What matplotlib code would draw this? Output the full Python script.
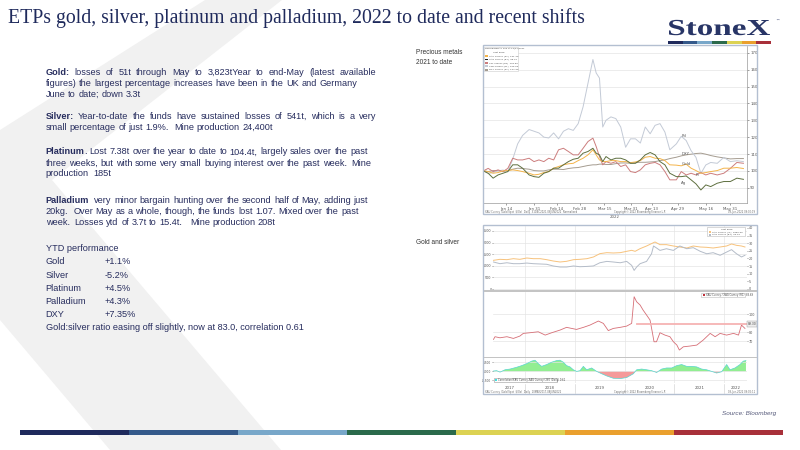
import re
import numpy as np
import matplotlib
matplotlib.use('Agg')
import matplotlib.pyplot as plt
from matplotlib.patches import Polygon, Rectangle, PathPatch
from matplotlib.textpath import TextPath
from matplotlib.font_manager import FontProperties
from matplotlib.transforms import blended_transform_factory, Affine2D

# ---------------------------------------------------------------- data
title = "ETPs gold, silver, platinum and palladium, 2022 to date and recent shifts"

ytd_names = ["Gold", "Silver", "Platinum", "Palladium", "DXY"]
ytd_values = [1.1, -5.2, 4.5, 4.3, 7.35]

# Chart 1: precious metals normalised to 100 at 31 Dec 2021
pm_dates = ["2021-12-31", "2022-01-03", "2022-01-06", "2022-01-09", "2022-01-12", "2022-01-15",
            "2022-01-18", "2022-01-21", "2022-01-24", "2022-01-28", "2022-01-31", "2022-02-03",
            "2022-02-06", "2022-02-09", "2022-02-12", "2022-02-15", "2022-02-18", "2022-02-21",
            "2022-02-24", "2022-02-27", "2022-03-02", "2022-03-05", "2022-03-08", "2022-03-10",
            "2022-03-12", "2022-03-14", "2022-03-16", "2022-03-19", "2022-03-22", "2022-03-25",
            "2022-03-28", "2022-03-31", "2022-04-03", "2022-04-06", "2022-04-09", "2022-04-12",
            "2022-04-15", "2022-04-18", "2022-04-21", "2022-04-24", "2022-04-28", "2022-05-01",
            "2022-05-04", "2022-05-07", "2022-05-10", "2022-05-13", "2022-05-16", "2022-05-19",
            "2022-05-23", "2022-05-27", "2022-05-31", "2022-06-04", "2022-06-08"]
pm_palladium = [100, 98.5, 99, 100, 100.5, 99.5, 107, 116, 121, 124.5,
                123.5, 122.5, 120, 119.5, 122.5, 119, 123.5, 125, 124, 128,
                138, 152, 166, 158, 155, 126, 130, 132, 131, 126,
                114, 119, 119, 116.5, 126, 122, 127, 128, 123, 112.5,
                116, 120.5, 118, 112, 108, 98.5, 103.5, 105, 104.5, 108,
                105.5, 106, 105.5]
pm_platinum = [100, 101.5, 99.6, 100.6, 99.6, 101.5, 107.5, 106.5, 106.5, 107.5,
               105.5, 106.5, 105.5, 107.5, 106.5, 112.5, 113.4, 111.5, 109.5, 109.5,
               113.4, 117.4, 119.4, 114.4, 108.5, 103.6, 105.5, 104.5, 105.5, 102.6,
               103.6, 99.6, 99, 100.6, 103.6, 104.5, 105, 103.6, 99.6, 94.7,
               94.7, 99.6, 97.6, 98.6, 97.6, 99, 97.6, 98.6, 97.6, 98.6,
               101.5, 105, 104.5]
pm_silver = [100, 98.6, 95.7, 97.6, 98.6, 99.6, 103.6, 103.6, 101.6, 97.6,
             96.6, 96.2, 98.6, 99.6, 101.6, 101.6, 103.6, 105.5, 106.9, 107.5,
             110.5, 111.5, 113.4, 110.5, 109.5, 105.5, 108.5, 106.5, 107.5, 107.5,
             106.5, 104.5, 104.5, 106.5, 109.5, 110.9, 109.5, 105.5, 103.6, 98.6,
             96.6, 96.6, 97, 94.7, 92.3, 88.7, 91.7, 90.7, 92.7, 93.7,
             93.7, 95.7, 95]
pm_gold = [100, 99.6, 98.6, 99, 100, 100.2, 100.6, 100.2, 99.6, 98.6,
           97.6, 98, 99, 99.6, 101.6, 102.6, 103.6, 104.2, 104.5, 106.1,
           107.5, 109.5, 112.5, 109.5, 106.5, 105.5, 105.5, 106.1, 106.1, 105.5,
           105.5, 104.9, 105.3, 106.1, 108.1, 108.5, 107.5, 107.3, 106.1, 103.6,
           103.4, 103, 104, 101.6, 100.2, 98.6, 99, 99.6, 100.2, 101.6,
           101.6, 102, 101.4]
pm_dxy = [100, 99.6, 100.2, 100.2, 99.6, 100.2, 101, 101.6, 101.4, 101,
          100.2, 100, 100, 100.6, 101, 101, 100.8, 101.4, 101.8, 102,
          102.6, 103.2, 103.6, 103.6, 104, 104, 103.8, 103.8, 104.3, 104.7,
          104.7, 104.5, 104.9, 105.1, 105.1, 105.3, 105.5, 106.1, 106.5, 107.3,
          108.1, 108.9, 109.5, 109.9, 110.3, 110.5, 109.9, 109.1, 108.3, 107.7,
          107.1, 107.3, 107.3]
pm_tick_dates = ["2022-01-14", "2022-01-31", "2022-02-14", "2022-02-28", "2022-03-15",
                 "2022-03-31", "2022-04-13", "2022-04-29", "2022-05-16", "2022-05-31"]
pm_tick_labels = ["Jan 14", "Jan 31", "Feb 14", "Feb 28", "Mar 15",
                  "Mar 31", "Apr 13", "Apr 29", "May 16", "May 31"]
pm_yticks = [90, 100, 110, 120, 130, 140, 150, 160, 170]

# Chart 2: gold & silver prices, gold:silver ratio, correlation (decimal years)
gold_t = [2017.36, 2017.49, 2017.63, 2017.76, 2017.89, 2018.03, 2018.16, 2018.30, 2018.43, 2018.56,
          2018.70, 2018.83, 2018.97, 2019.10, 2019.24, 2019.37, 2019.50, 2019.64, 2019.77, 2019.91,
          2020.04, 2020.14, 2020.21, 2020.31, 2020.44, 2020.58, 2020.61, 2020.71, 2020.84, 2020.98,
          2021.11, 2021.25, 2021.38, 2021.52, 2021.65, 2021.78, 2021.92, 2022.05, 2022.15, 2022.25,
          2022.35, 2022.42]
gold_px = [1236, 1279, 1264, 1307, 1279, 1336, 1307, 1307, 1264, 1207,
           1164, 1193, 1264, 1279, 1307, 1379, 1523, 1566, 1552, 1566,
           1624, 1667, 1624, 1739, 1853, 1997, 2026, 1911, 1911, 1853,
           1810, 1767, 1853, 1810, 1796, 1767, 1810, 1853, 1940, 1882,
           1853, 1810]
silver_t = [2017.36, 2017.49, 2017.63, 2017.76, 2017.89, 2018.03, 2018.16, 2018.30, 2018.43, 2018.56,
            2018.70, 2018.83, 2018.97, 2019.10, 2019.24, 2019.37, 2019.50, 2019.64, 2019.77, 2019.91,
            2020.04, 2020.14, 2020.19, 2020.24, 2020.31, 2020.44, 2020.54, 2020.58, 2020.64, 2020.71,
            2020.84, 2020.98, 2021.11, 2021.25, 2021.38, 2021.52, 2021.65, 2021.78, 2021.92, 2022.05,
            2022.15, 2022.25, 2022.35, 2022.42]
silver_px = [17.7, 16.6, 17.2, 16.6, 16.6, 17.0, 16.6, 16.4, 16.2, 15.1,
             14.4, 14.4, 15.1, 14.6, 14.8, 15.1, 17.2, 18.1, 17.7, 17.2,
             18.1, 15.5, 12.2, 14.4, 16.6, 18.1, 23.1, 28.2, 26.9, 25.3,
             26.4, 25.3, 28.2, 26.4, 27.1, 24.7, 23.1, 23.8, 22.1, 24.2,
             25.8, 23.1, 21.0, 22.1]
ratio_t = [2017.36, 2017.39, 2017.49, 2017.63, 2017.76, 2017.89, 2017.96, 2018.09, 2018.26, 2018.40,
           2018.53, 2018.70, 2018.83, 2019.03, 2019.17, 2019.30, 2019.47, 2019.57, 2019.67, 2019.77,
           2019.91, 2020.04, 2020.14, 2020.19, 2020.24, 2020.31, 2020.37, 2020.44, 2020.51, 2020.56,
           2020.59, 2020.64, 2020.71, 2020.81, 2020.91, 2020.98, 2021.05, 2021.10, 2021.18, 2021.31,
           2021.45, 2021.58, 2021.72, 2021.82, 2021.92, 2022.05, 2022.19, 2022.29, 2022.35, 2022.42]
ratio_v = [72.2, 75.2, 74.0, 75.2, 73.3, 75.9, 78.9, 79.6, 80.7, 77.0,
           79.6, 82.6, 85.6, 83.3, 85.6, 88.1, 92.6, 90.0, 82.0, 84.4,
           85.6, 87.0, 90.0, 119.6, 114.0, 110.4, 104.8, 99.3, 93.7, 78.9,
           69.6, 69.6, 79.6, 77.0, 75.2, 69.6, 65.9, 60.4, 64.0, 64.8,
           65.9, 71.5, 78.9, 75.2, 78.9, 77.0, 78.9, 77.0, 88.1, 84.4]
ratio_ref_level = 89.3
ratio_ref_start = 2020.24
corr_t = [2017.357, 2017.424, 2017.491, 2017.592, 2017.692, 2017.826, 2017.927, 2018.028, 2018.128, 2018.195,
          2018.262, 2018.329, 2018.430, 2018.531, 2018.631, 2018.698, 2018.765, 2018.832, 2018.899, 2018.966,
          2019.034, 2019.101, 2019.168, 2019.235, 2019.335, 2019.436, 2019.537, 2019.637, 2019.771, 2019.905,
          2020.040, 2020.174, 2020.241, 2020.341, 2020.442, 2020.543, 2020.643, 2020.744, 2020.844, 2020.945,
          2021.046, 2021.146, 2021.247, 2021.347, 2021.448, 2021.549, 2021.649, 2021.750, 2021.850, 2021.951,
          2022.052, 2022.119, 2022.219, 2022.320, 2022.387, 2022.440]
corr_v = [0.02, 0.04, -0.04, 0.09, 0.13, 0.23, 0.32, 0.43, 0.57, 0.62,
          0.43, 0.28, 0.38, 0.51, 0.60, 0.62, 0.51, 0.32, 0.25, 0.09,
          0.00, 0.04, 0.28, 0.09, 0.19, 0.00, -0.13, -0.25, -0.38, -0.40,
          -0.34, -0.13, 0.09, 0.13, 0.09, 0.04, -0.06, 0.13, 0.19, 0.19,
          0.32, 0.38, 0.28, 0.28, 0.25, 0.13, 0.09, 0.00, -0.09, -0.02,
          0.38, 0.09, 0.19, 0.38, 0.57, 0.60]
years = [2017, 2018, 2019, 2020, 2021, 2022]

# ---------------------------------------------------------------- styling
NAVY = '#1f2a5c'
LOGO = '#283566'
TXT = '#272d5e'
STRIPE = ['#1f2a5c', '#34598a', '#78a7c9', '#2b6a4b', '#dcd253', '#eaa02e', '#a8303a']
W, H = 800, 450

fig = plt.figure(figsize=(8, 4.5), dpi=100)
fig.patch.set_facecolor('white')


def rect(x0, y0, x1, y1):
    return [x0 / W, 1 - y1 / H, (x1 - x0) / W, (y1 - y0) / H]


bg = fig.add_axes([0, 0, 1, 1])
bg.set_xlim(0, W)
bg.set_ylim(H, 0)
bg.axis('off')
renderer = fig.canvas.get_renderer()


def text_width(s, **kw):
    t = bg.text(0, 0, s, **kw)
    w = t.get_window_extent(renderer).width
    t.remove()
    return w


# background chevron
bg.add_patch(Polygon([(205, 0), (282, 0), (52, 180), (281, 450), (110, 450), (0, 320), (0, 130)],
                     closed=True, fc='#f1f1f1', ec='none', zorder=0))

# title
fs_title = 14 * 579 / text_width(title, family='Liberation Serif', fontsize=14)
bg.text(8, 23, title, family='Liberation Serif', fontsize=fs_title, color=NAVY, va='baseline')

# logo: text path stretched into its box (x 669-770, cap top 20, baseline 35)
tp = TextPath((0, 0), "StoneX", size=10, prop=FontProperties(family='Liberation Serif', weight='bold'))
ext = tp.get_extents()
cap_h = TextPath((0, 0), "X", size=10, prop=FontProperties(family='Liberation Serif', weight='bold')).get_extents().y1
sx = 101 / ext.width
sy = 15 / cap_h
logo_tr = Affine2D().translate(-ext.x0, 0).scale(sx, -sy).translate(669, 35) + bg.transData
bg.add_patch(PathPatch(tp, fc=LOGO, ec='none', transform=logo_tr))
bg.text(775, 21, "\u2122", family='DejaVu Sans', fontsize=3, color=LOGO, va='center')
seg = (771 - 668) / 7
for i, c in enumerate(STRIPE):
    bg.add_patch(Rectangle((668 + i * seg, 41.3), seg, 2.8, fc=c, ec='none'))
seg = (783 - 20) / 7
for i, c in enumerate(STRIPE):
    bg.add_patch(Rectangle((20 + i * seg, 429.5), seg + 0.3, 5.5, fc=c, ec='none'))

# body text
ref_line = "small percentage of just 1.9%.  Mine production 24,400t"
fs_body = 10 * 224.5 / text_width(ref_line, family='Liberation Sans', fontsize=10)
X0, X1 = 45.7, 376.5


def tw(s, b):
    return text_width(s, family='Liberation Sans', fontsize=fs_body,
                      fontweight='bold' if b else 'normal')


SPW = {False: tw('a a', False) - tw('aa', False), True: tw('a a', True) - tw('aa', True)}


def draw_line(y, segs, justify=False):
    tokens = []
    for txt, b in segs:
        for m in re.finditer(r'\S+|\s+', txt):
            tokens.append((m.group(), b))
    words = [(t, b) for t, b in tokens if not t.isspace()]
    x = X0
    if justify:
        total = sum(tw(t, b) for t, b in words)
        gap = (X1 - X0 - total) / (len(words) - 1)
        for t, b in words:
            bg.text(x, y, t, family='Liberation Sans', fontsize=fs_body, color=TXT,
                    fontweight='bold' if b else 'normal', va='center')
            x += tw(t, b) + gap
    else:
        for t, b in tokens:
            if t.isspace():
                x += len(t) * SPW[b]
            else:
                bg.text(x, y, t, family='Liberation Sans', fontsize=fs_body, color=TXT,
                        fontweight='bold' if b else 'normal', va='center')
                x += tw(t, b)


lines = [
    (72.7, [("Gold:", True), (" losses of 51t through May to 3,823tYear to end-May (latest available", False)], True),
    (83.7, [("figures) the largest percentage increases have been in the UK and Germany", False)], False),
    (94.7, [("June to date; down 3.3t", False)], False),
    (116.7, [("Silver:", True), (" Year-to-date the funds have sustained losses of 541t, which is a very", False)], True),
    (127.7, [("small percentage of just 1.9%.  Mine production 24,400t", False)], False),
    (152.0, [("Platinum", True), (". Lost 7.38t over the year to date to 104.4t, largely sales over the past", False)], False),
    (163.0, [("three weeks, but with some very small buying interest over the past week.  Mine", False)], False),
    (174.0, [("production  185t", False)], False),
    (200.3, [("Palladium", True), ("  very minor bargain hunting over the second half of May, adding just", False)], False),
    (211.3, [("20kg.  Over May as a whole, though, the funds lost 1.07. Mixed over the past", False)], False),
    (222.3, [("week.  Losses ytd of 3.7t to 15.4t.   Mine production 208t", False)], False),
]
for y, segs, j in lines:
    draw_line(y, segs, j)

bg.text(X0, 248.7, "YTD performance", family='Liberation Sans', fontsize=fs_body, color=TXT, va='center')
ytd_y = [261.7, 275.0, 288.2, 301.4, 314.7]
for name, val, y in zip(ytd_names, ytd_values, ytd_y):
    bg.text(X0, y, name, family='Liberation Sans', fontsize=fs_body, color=TXT, va='center')
    bg.text(105, y, '{:+g}%'.format(val), family='Liberation Sans', fontsize=fs_body, color=TXT, va='center')
bg.text(X0, 328, "Gold:silver ratio easing off slightly, now at 83.0, correlation 0.61",
        family='Liberation Sans', fontsize=fs_body, color=TXT, va='center')

bg.text(416, 52.5, "Precious metals", family='Liberation Sans', fontsize=4.7, color='#333333', va='center')
bg.text(416, 62.5, "2021 to date", family='Liberation Sans', fontsize=4.7, color='#333333', va='center')
bg.text(416, 243, "Gold and silver", family='Liberation Sans', fontsize=4.7, color='#333333', va='center')
bg.text(776, 413, "Source: Bloomberg", family='Liberation Sans', fontsize=4.6, style='italic',
        color='#585c7c', ha='right', va='center')

# white chart backgrounds
bg.add_patch(Rectangle((483, 45), 274, 169, fc='white', ec='none', zorder=1))
bg.add_patch(Rectangle((483, 225), 274, 169, fc='white', ec='none', zorder=1))

TL = dict(labelsize=2.8, colors='#555555', length=1.5, width=0.4, pad=1)
TL2 = dict(labelsize=2.4, colors='#555555', length=0.8, width=0.4, pad=0.5)

# ---------------------------------------------------------------- chart 1
ax1 = fig.add_axes(rect(483.3, 46, 746.7, 203.3))
ax1.set_facecolor('none')
d1 = np.array(pm_dates, dtype='datetime64[D]')
series1 = [(pm_dxy, '#a59c90'), (pm_palladium, '#c3cad6'), (pm_platinum, '#cc7d7d'),
           (pm_gold, '#f4b44a'), (pm_silver, '#5e6f3f')]
for vals, col in series1:
    ax1.plot(d1, vals, color=col, lw=0.7)
ax1.set_xlim(np.datetime64('2021-12-31'), np.datetime64('2022-06-10'))
ax1.set_ylim(80.8, 174)
ax1.yaxis.tick_right()
ax1.set_yticks(pm_yticks)
ax1.set_xticks(np.array(pm_tick_dates, dtype='datetime64[D]'))
ax1.set_xticklabels(pm_tick_labels)
ax1.tick_params(**TL)
ax1.grid(axis='y', color='#e4e4e4', lw=0.5)
for s in ['left', 'top']:
    ax1.spines[s].set_visible(False)
for s in ['right', 'bottom']:
    ax1.spines[s].set_color('#9a9a9a')
    ax1.spines[s].set_linewidth(0.5)
# end labels placed from the data
lab_idx = pm_dates.index("2022-05-01")
pt_idx = pm_dates.index("2022-05-10")
for txt, vals, idx, off in [("Pd", pm_palladium, lab_idx, 0.0), ("DXY", pm_dxy, lab_idx, 1.2),
                            ("Gold", pm_gold, lab_idx, 1.2), ("Pt", pm_platinum, pt_idx, 0.0),
                            ("Ag", pm_silver, lab_idx, -4.0)]:
    ax1.text(d1[idx], vals[idx] + off, txt, fontsize=2.8, color='#555555', ha='left', va='center')
ax1.text(0.5, -0.085, "2022", transform=ax1.transAxes, fontsize=2.8, color='#555555', ha='center', va='center')

# legend chart 1
leg_items = [("XAU Curncy (R1)  101.40", '#f4b44a'), ("XAG Curncy (R1)  95.00", '#222222'),
             ("XPT Curncy (R1)  104.50", '#cc7d7d'), ("XPD Curncy (R1)  105.50", '#c3cad6'),
             ("DXY Curncy (R1)  107.30", '#a59c90')]
ax1.add_patch(Rectangle((0.003, 0.842), 0.13, 0.154, transform=ax1.transAxes, fc='white',
                        ec='#cccccc', lw=0.4, zorder=5))
ax1.text(0.008, 0.99, "Normalized to 100 at 12/31/2021", transform=ax1.transAxes, fontsize=1.7,
         color='#444444', va='top', zorder=6)
ax1.text(0.06, 0.966, "Last Price", transform=ax1.transAxes, fontsize=1.7, color='#444444',
         va='top', ha='center', zorder=6)
for i, (t, c) in enumerate(leg_items):
    yy = 0.936 - i * 0.0215
    ax1.add_patch(Rectangle((0.008, yy - 0.006), 0.009, 0.012, transform=ax1.transAxes, fc=c,
                            ec='none', zorder=6))
    ax1.text(0.02, yy, t, transform=ax1.transAxes, fontsize=1.7, color='#444444', va='center', zorder=6)

# ---------------------------------------------------------------- chart 2
XL = (2017.356, 2022.455)
axA = fig.add_axes(rect(493.3, 226, 746.7, 290))
axA.set_facecolor('none')
axA.plot(gold_t, gold_px, color='#f7c27c', lw=0.7)
axA.set_xlim(*XL)
axA.set_ylim(-43, 2715)
axA.set_yticks([0, 500, 1000, 1500, 2000, 2500])
axA.set_xticks([])
axA.tick_params(**TL2)
axA.grid(axis='y', color='#e4e4e4', lw=0.5)
axA2 = axA.twinx()
axA2.plot(silver_t, silver_px, color='#b4bcc8', lw=0.7)
axA2.set_ylim(-0.66, 41.3)
axA2.set_yticks(list(range(0, 41, 5)))
axA2.tick_params(**TL2)

axB = fig.add_axes(rect(493.3, 291.7, 746.7, 356.7))
axB.set_facecolor('none')
axB.plot(ratio_t, ratio_v, color='#d66e76', lw=0.6)
axB.plot([ratio_ref_start, XL[1]], [ratio_ref_level, ratio_ref_level], color='#f6b3b3', lw=1.3)
axB.set_xlim(*XL)
axB.set_ylim(53, 125.2)
axB.yaxis.tick_right()
axB.set_yticks([70, 80, 100])
axB.set_xticks([])
axB.tick_params(**TL2)
axB.grid(axis='y', color='#e4e4e4', lw=0.5)
axB.text(1.004, (ratio_ref_level - 53) / (125.2 - 53), "89.30", transform=axB.transAxes,
         fontsize=2.2, color='#444444', ha='left', va='center',
         bbox=dict(boxstyle='square,pad=0.25', fc='#eeeeee', ec='#999999', lw=0.3))

axC = fig.add_axes(rect(493.3, 357.7, 746.7, 383.3))
axC.set_facecolor('none')
ct = np.array(corr_t)
cv = np.array(corr_v)
axC.fill_between(ct, 0, cv, where=cv >= 0, interpolate=True, color='#92ee92', lw=0)
axC.fill_between(ct, 0, cv, where=cv <= 0, interpolate=True, color='#f59a9a', lw=0)
axC.plot(ct, cv, color='#58d6d0', lw=0.5)
axC.set_xlim(*XL)
axC.set_ylim(-0.66, 0.76)
axC.set_yticks([-0.5, 0, 0.5])
axC.set_yticklabels(["-0.500", "0.000", "0.500"])
axC.set_xticks([])
axC.tick_params(**dict(TL2, labelsize=2.1))
axC.grid(axis='y', color='#e4e4e4', lw=0.5)

for ax in (axA, axA2, axB, axC):
    for s in ax.spines.values():
        s.set_visible(False)
for ax in (axA, axB, axC):
    for yr in years[1:]:
        ax.axvline(yr, color='#e6e6e6', lw=0.5, zorder=0)

trC = blended_transform_factory(axC.transData, axC.transAxes)
bounds = [XL[0]] + years[1:] + [XL[1]]
for i, yr in enumerate(years):
    axC.text((bounds[i] + bounds[i + 1]) / 2, -0.2, str(yr), transform=trC, fontsize=2.8,
             color='#555555', ha='center', va='center', clip_on=False)
for yr in years[1:]:
    axC.plot([yr, yr], [-0.03, -0.36], transform=trC, color='#cccccc', lw=0.4, clip_on=False)

# legends chart 2
axA.add_patch(Rectangle((0.845, 0.85), 0.15, 0.14, transform=axA.transAxes, fc='white',
                        ec='#bbbbbb', lw=0.4, zorder=5))
axA.text(0.92, 0.955, "Last Price", transform=axA.transAxes, fontsize=1.7, color='#444444',
         ha='center', va='center', zorder=6)
for i, (t, c) in enumerate([("XAU Curncy (L1)  1850.59", '#f7c27c'), ("XAG Curncy (R1)  22.10", '#b4bcc8')]):
    yy = 0.91 - i * 0.045
    axA.add_patch(Rectangle((0.85, yy - 0.015), 0.008, 0.03, transform=axA.transAxes, fc=c,
                            ec='none', zorder=6))
    axA.text(0.862, yy, t, transform=axA.transAxes, fontsize=1.7, color='#444444', va='center', zorder=6)
axB.add_patch(Rectangle((0.82, 0.925), 0.175, 0.06, transform=axB.transAxes, fc='white',
                        ec='#bbbbbb', lw=0.4, zorder=5))
axB.add_patch(Rectangle((0.826, 0.94), 0.008, 0.03, transform=axB.transAxes, fc='#c0303a',
                        ec='none', zorder=6))
axB.text(0.838, 0.955, "XAU Curncy / XAG Curncy (R1)  83.69", transform=axB.transAxes, fontsize=1.8,
         color='#444444', va='center', zorder=6)
axC.add_patch(Rectangle((0.002, 0.06), 0.25, 0.15, transform=axC.transAxes, fc='white',
                        ec='#999999', lw=0.4, zorder=5))
axC.add_patch(Rectangle((0.007, 0.09), 0.008, 0.09, transform=axC.transAxes, fc='#40e0e0',
                        ec='none', zorder=6))
axC.text(0.018, 0.135, "Correlation(XAU Curncy,XAG Curncy) 260 (Daily) 0.61", transform=axC.transAxes,
         fontsize=1.8, color='#444444', va='center', zorder=6)

# ---------------------------------------------------------------- overlay frames
ov = fig.add_axes([0, 0, 1, 1], zorder=20)
ov.set_xlim(0, W)
ov.set_ylim(H, 0)
ov.axis('off')
ov.patch.set_visible(False)
ov.add_patch(Rectangle((483, 45), 274, 169, fill=False, ec='#b3bfd1', lw=1))
ov.add_patch(Rectangle((483, 225), 274, 169, fill=False, ec='#b3bfd1', lw=1))
ov.add_patch(Rectangle((483.5, 290), 273, 1.7, fc='#c4c4c4', ec='none'))
ov.add_patch(Rectangle((483.5, 356.7), 273, 1.2, fc='#c4c4c4', ec='none'))
ft = dict(fontsize=1.8, color='#666666', va='center')
ov.text(485, 211.5, "XAU Curncy (Gold Spot  $/Oz)  Daily  31DEC2021-08JUN2022  Normalized", **ft)
ov.text(640, 211.5, "Copyright\u00a9 2022 Bloomberg Finance L.P.", ha='center', **ft)
ov.text(755, 211.5, "08-Jun-2022 09:00:19", ha='right', **ft)
ov.text(485, 391.5, "XAU Curncy (Gold Spot  $/Oz)  Daily  10MAY2017-08JUN2022", **ft)
ov.text(640, 391.5, "Copyright\u00a9 2022 Bloomberg Finance L.P.", ha='center', **ft)
ov.text(755, 391.5, "08-Jun-2022 09:02:11", ha='right', **ft)

fig.savefig('out.png', dpi=100, facecolor='white')
